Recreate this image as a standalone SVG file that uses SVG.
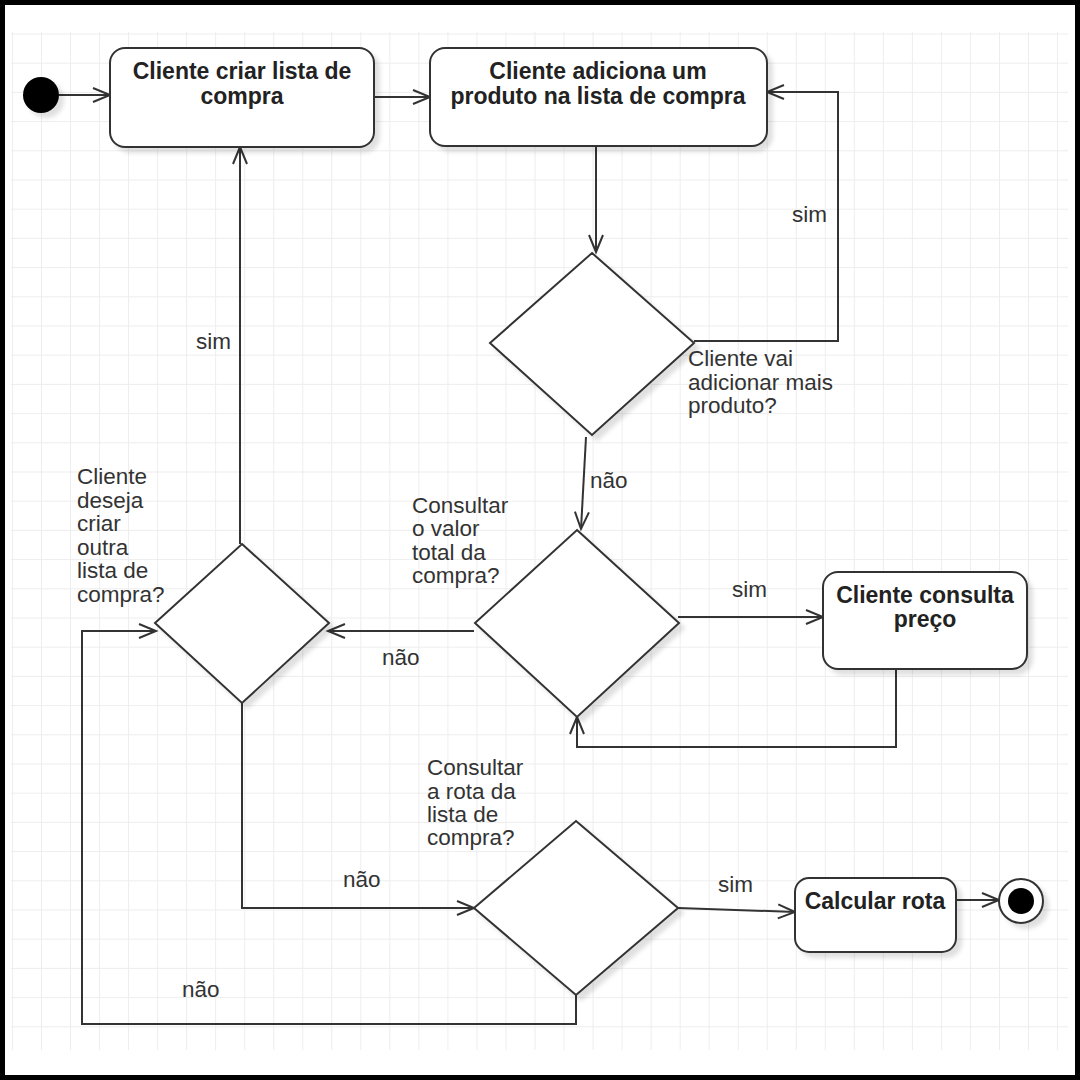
<svg xmlns="http://www.w3.org/2000/svg" width="1080" height="1080" viewBox="0 0 1080 1080">
<defs>
<pattern id="grid" patternUnits="userSpaceOnUse" x="41" y="33.5" width="29.03" height="29.2">
<line x1="0" y1="0" x2="0" y2="29.2" stroke="#ededed" stroke-width="2"/>
<line x1="0" y1="0" x2="29.03" y2="0" stroke="#ededed" stroke-width="2"/>
</pattern>
<filter id="sh" x="-20%" y="-20%" width="150%" height="150%">
<feDropShadow dx="5" dy="5" stdDeviation="2" flood-color="#000" flood-opacity="0.12"/>
</filter>
<marker id="arr" markerUnits="userSpaceOnUse" markerWidth="22" markerHeight="18" refX="18" refY="8" orient="auto">
<path d="M1,1 L18,8 L1,15" fill="none" stroke="#333" stroke-width="2"/>
</marker>
</defs>
<style>
.node{fill:#fff;stroke:#333;stroke-width:2;filter:url(#sh)}
.t{font-family:"Liberation Sans",Arial,sans-serif;font-weight:bold;font-size:23px;fill:#222;text-anchor:middle}
.l{font-family:"Liberation Sans",Arial,sans-serif;font-size:22.5px;fill:#333}
.c{fill:none;stroke:#333;stroke-width:2;marker-end:url(#arr)}
</style>
<rect x="0" y="0" width="1080" height="1080" fill="#000"/>
<rect x="5" y="5" width="1070" height="1070" fill="#fff"/>
<rect x="11" y="32" width="1057" height="1018" fill="url(#grid)"/>

<g id="connectors">
<path class="c" d="M59,95 L110,95"/>
<path class="c" d="M374,97 L430,97"/>
<path class="c" d="M596,146 L596,252"/>
<path class="c" d="M694,341 L838,341 L838,92 L767,92"/>
<path class="c" d="M586,437 L581,529"/>
<path class="c" d="M678,617 L823,617"/>
<path class="c" d="M896,669 L896,747 L577,747 L577,717"/>
<path class="c" d="M474,631 L328,631"/>
<path class="c" d="M240,544 L240,147"/>
<path class="c" d="M242,703 L242,908 L474,908"/>
<path class="c" d="M576,995 L576,1024 L82,1024 L82,631 L156,631"/>
<path class="c" d="M678,908 L795,912"/>
<path class="c" d="M956,900 L999,900"/>
<text class="l" x="792" y="222">sim</text>
<text class="l" x="196" y="349">sim</text>
<text class="l" x="590" y="488">não</text>
<text class="l" x="732" y="597">sim</text>
<text class="l" x="382" y="665">não</text>
<text class="l" x="343" y="887">não</text>
<text class="l" x="182" y="997">não</text>
<text class="l" x="718" y="892">sim</text>
</g>

<g id="start">
<circle cx="41" cy="95" r="18" fill="#000" style="filter:url(#sh)"/>
</g>

<g id="criar-lista">
<rect class="node" x="110" y="48" width="264" height="99" rx="15"/>
<text class="t" x="242" y="79">Cliente criar lista de</text>
<text class="t" x="242" y="104">compra</text>
</g>

<g id="adiciona-produto">
<rect class="node" x="430" y="48" width="337" height="98" rx="15"/>
<text class="t" x="598" y="79">Cliente adiciona um</text>
<text class="t" x="598" y="104">produto na lista de compra</text>
</g>

<g id="decisao-mais-produto">
<polygon class="node" points="592,253 694,343 592,435 490,343"/>
<text class="l" x="688" y="366">Cliente vai</text>
<text class="l" x="688" y="390">adicionar mais</text>
<text class="l" x="688" y="413">produto?</text>
</g>

<g id="decisao-valor-total">
<polygon class="node" points="577,530 679,623 577,717 475,623"/>
<text class="l" x="412" y="513">Consultar</text>
<text class="l" x="412" y="536">o valor</text>
<text class="l" x="412" y="560">total da</text>
<text class="l" x="412" y="583">compra?</text>
</g>

<g id="consulta-preco">
<rect class="node" x="823" y="572" width="204" height="97" rx="15"/>
<text class="t" x="925" y="603">Cliente consulta</text>
<text class="t" x="925" y="627">preço</text>
</g>

<g id="decisao-outra-lista">
<polygon class="node" points="242,544 329,623 242,703 155,623"/>
<text class="l" x="77" y="484">Cliente</text>
<text class="l" x="77" y="508">deseja</text>
<text class="l" x="77" y="531">criar</text>
<text class="l" x="77" y="555">outra</text>
<text class="l" x="77" y="578">lista de</text>
<text class="l" x="77" y="602">compra?</text>
</g>

<g id="decisao-rota">
<polygon class="node" points="576,821 678,908 576,995 474,908"/>
<text class="l" x="427" y="775">Consultar</text>
<text class="l" x="427" y="799">a rota da</text>
<text class="l" x="427" y="822">lista de</text>
<text class="l" x="427" y="845">compra?</text>
</g>

<g id="calcular-rota">
<rect class="node" x="795" y="878" width="161" height="74" rx="14"/>
<text class="t" x="875" y="909">Calcular rota</text>
</g>

<g id="end">
<circle cx="1021" cy="901" r="22" fill="#fff" stroke="#333" stroke-width="2" style="filter:url(#sh)"/>
<circle cx="1021" cy="901" r="13" fill="#000"/>
</g>
</svg>
